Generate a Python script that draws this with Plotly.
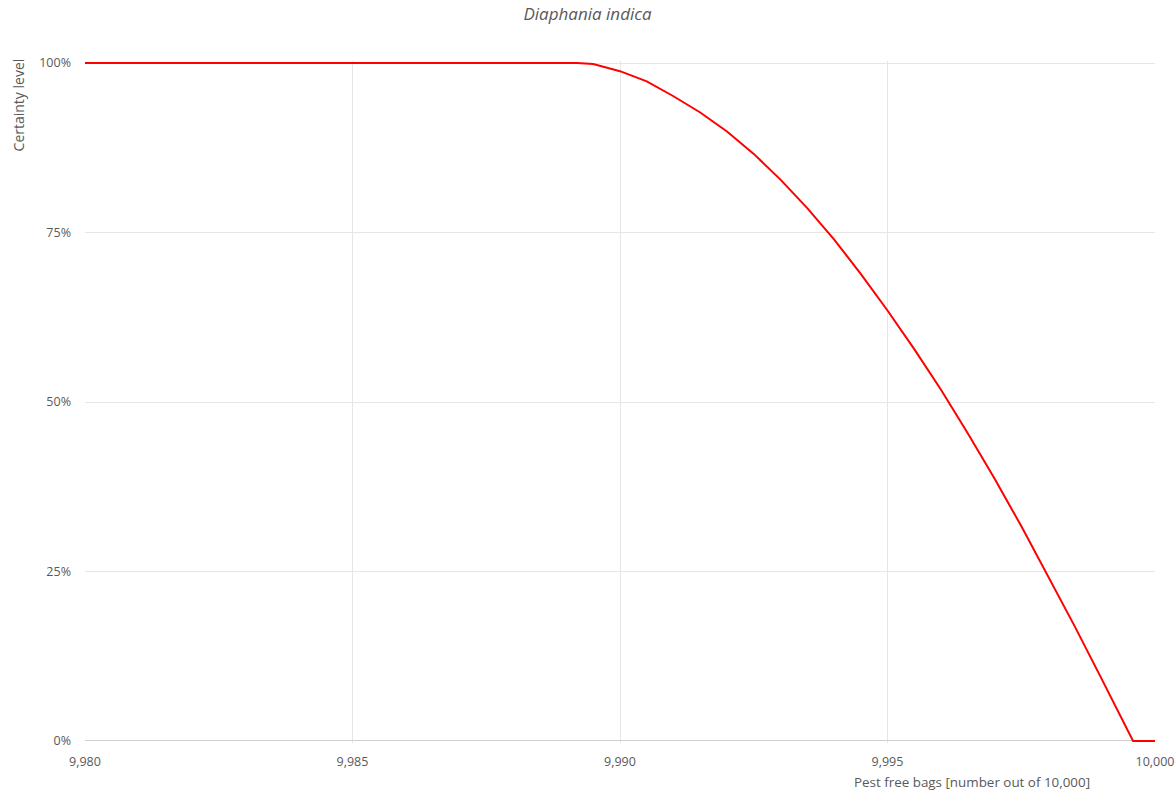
import plotly.graph_objects as go

bags = [9980.0, 9985.0, 9989.2, 9989.5, 9990.0, 9990.5, 9991.0, 9991.5, 9992.0, 9992.5,
        9993.0, 9993.5, 9994.0, 9994.5, 9995.0, 9995.5, 9996.0, 9996.5, 9997.0,
        9997.5, 9998.0, 9998.5, 9999.0, 9999.5, 9999.59, 10000.0]
certainty = [100.0, 100.0, 100.0, 99.85, 98.8, 97.3, 95.1, 92.7, 89.9, 86.6,
             82.8, 78.6, 74.0, 68.9, 63.5, 57.8, 51.8, 45.4, 38.7,
             31.7, 24.4, 16.9, 9.2, 1.4, 0.0, 0.0]

x_ticks = [9980, 9985, 9990, 9995, 10000]
y_ticks = [0, 25, 50, 75, 100]

FONT = "Open Sans, Liberation Sans, sans-serif"
GRAY = "#595959"

fig = go.Figure()
fig.add_trace(go.Scatter(x=bags, y=certainty, mode="lines",
                         line=dict(color="#ff0000", width=2),
                         showlegend=False, hoverinfo="x+y"))

fig.update_layout(
    width=1175, height=800, autosize=False,
    margin=dict(l=85, r=20, t=61, b=57, autoexpand=False),
    paper_bgcolor="white", plot_bgcolor="white",
    font=dict(family=FONT, color=GRAY, size=12),
    title=dict(text="<i>Diaphania indica</i>", x=0.5, xanchor="center",
               xref="container", y=1 - 14 / 800, yanchor="middle",
               font=dict(family=FONT, size=17, color=GRAY)),
    xaxis=dict(range=[9980, 10000], tickvals=x_ticks,
               ticktext=[f"{v:,}" for v in x_ticks],
               showgrid=True, gridcolor="#e6e6e6", gridwidth=1,
               showline=False, zeroline=False, ticks="", ticklabelstandoff=9,
               automargin=False,
               tickfont=dict(size=12.5, color=GRAY)),
    yaxis=dict(range=[-0.3, 100.3], tickvals=y_ticks,
               ticktext=[f"{v}%" for v in y_ticks],
               showgrid=True, gridcolor="#e6e6e6", gridwidth=1,
               showline=False, zeroline=True, zerolinecolor="#cfcfcf", zerolinewidth=1,
               ticks="", ticklabelstandoff=13, automargin=False,
               tickfont=dict(size=12.5, color=GRAY)),
    annotations=[
        dict(text="Certainty level", xref="paper", yref="paper", x=-0.0626, y=1.006,
             xanchor="center", yanchor="top", textangle=-90, showarrow=False,
             font=dict(family=FONT, size=14, color=GRAY)),
        dict(text="Pest free bags [number out of 10,000]", xref="paper", yref="paper",
             x=0.941, y=-0.0572, xanchor="right", yanchor="middle", showarrow=False,
             font=dict(family=FONT, size=13.4, color=GRAY)),
    ],
)

fig.write_html("out.html", config={"displayModeBar": False, "responsive": False},
               post_script="document.body.style.margin='0';document.body.style.overflow='hidden';")
